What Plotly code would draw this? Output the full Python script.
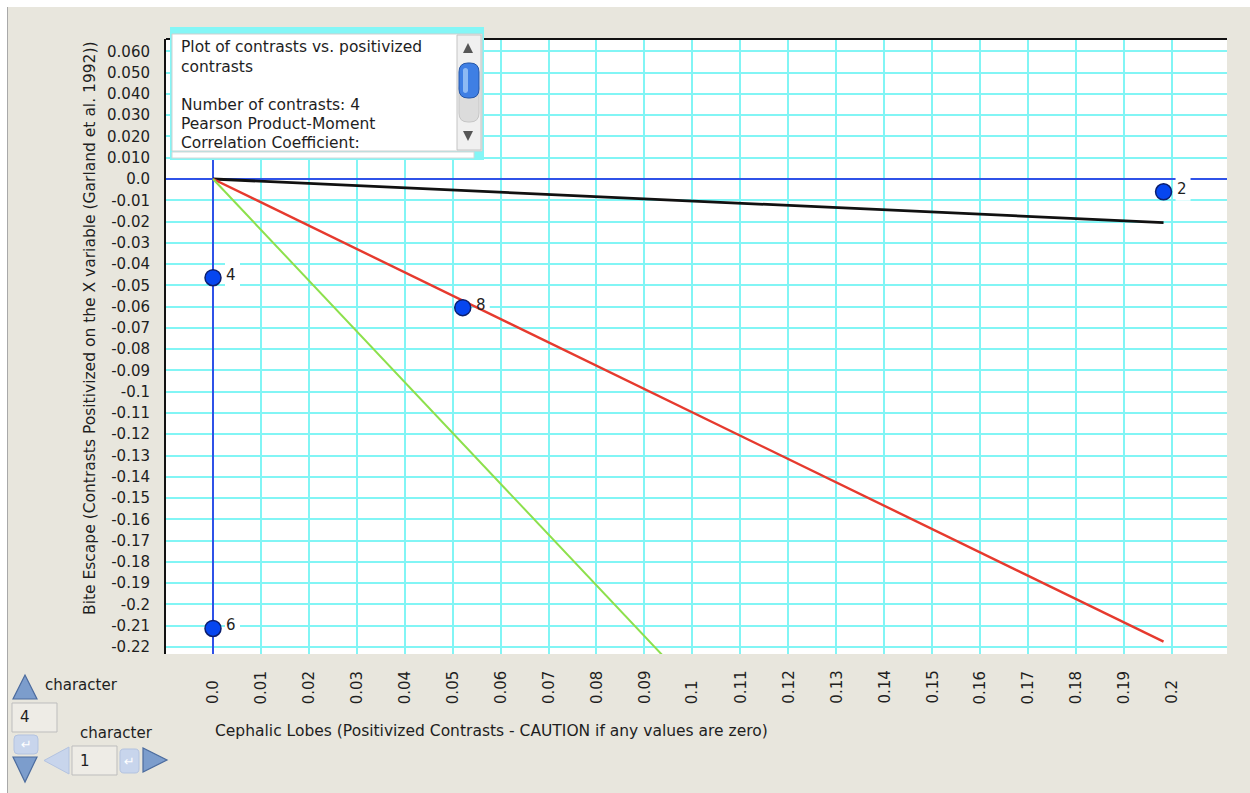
import plotly.graph_objects as go

# ---- data -----------------------------------------------------------------
point_labels = ["2", "4", "8", "6"]
point_x = [0.1983, 0.0, 0.0521, 0.0]
point_y = [-0.0060, -0.0464, -0.0605, -0.2113]

# regression lines through the origin (slope of each fit)
fit_slopes = [-0.1035, -1.097, -2.388]
fit_colors = ["#111111", "#e63a2e", "#8de04c"]
fit_widths = [2.8, 2.4, 2.0]

x_ticks = [0.0, 0.01, 0.02, 0.03, 0.04, 0.05, 0.06, 0.07, 0.08, 0.09, 0.1,
           0.11, 0.12, 0.13, 0.14, 0.15, 0.16, 0.17, 0.18, 0.19, 0.2]
x_tick_text = ["0.0", "0.01", "0.02", "0.03", "0.04", "0.05", "0.06", "0.07",
               "0.08", "0.09", "0.1", "0.11", "0.12", "0.13", "0.14", "0.15",
               "0.16", "0.17", "0.18", "0.19", "0.2"]
y_ticks = [0.06, 0.05, 0.04, 0.03, 0.02, 0.01, 0.0, -0.01, -0.02, -0.03, -0.04,
           -0.05, -0.06, -0.07, -0.08, -0.09, -0.1, -0.11, -0.12, -0.13, -0.14,
           -0.15, -0.16, -0.17, -0.18, -0.19, -0.2, -0.21, -0.22]
y_tick_text = ["0.060", "0.050", "0.040", "0.030", "0.020", "0.010", "0.0",
               "-0.01", "-0.02", "-0.03", "-0.04", "-0.05", "-0.06", "-0.07",
               "-0.08", "-0.09", "-0.1", "-0.11", "-0.12", "-0.13", "-0.14",
               "-0.15", "-0.16", "-0.17", "-0.18", "-0.19", "-0.2", "-0.21",
               "-0.22"]

info_lines = ["Plot of contrasts vs. positivized", "contrasts", "",
              "Number of contrasts: 4", "Pearson Product-Moment",
              "Correlation Coefficient:"]

x_title = "Cephalic Lobes (Positivized Contrasts - CAUTION if any values are zero)"
y_title = "Bite Escape (Contrasts Positivized on the X variable (Garland et al. 1992))"

# ---- page geometry (pixels) ------------------------------------------------
W, H = 1250, 793
L, R, T, B = 166, 1227, 39, 654
PW, PH = R - L, B - T
FONT = "DejaVu Sans"
TXT = "#1e1e1e"
BG = "#e8e6dd"


def px(x):
    return (x - L) / PW


def py(y):
    return (B - y) / PH


def poly(points):
    return "M " + " L ".join(f"{px(x):.5f},{py(y):.5f}" for x, y in points) + " Z"


def rrect(x0, y0, x1, y1, r):
    p = lambda x, y: f"{px(x):.5f},{py(y):.5f}"
    return (f"M {p(x0 + r, y0)} L {p(x1 - r, y0)} Q {p(x1, y0)} {p(x1, y0 + r)} "
            f"L {p(x1, y1 - r)} Q {p(x1, y1)} {p(x1 - r, y1)} L {p(x0 + r, y1)} "
            f"Q {p(x0, y1)} {p(x0, y1 - r)} L {p(x0, y0 + r)} Q {p(x0, y0)} {p(x0 + r, y0)} Z")


shapes = []


def rect(x0, y0, x1, y1, fill, line=None, lw=1):
    shapes.append(dict(type="rect", xref="paper", yref="paper",
                       x0=px(x0), x1=px(x1), y0=py(y1), y1=py(y0),
                       fillcolor=fill, line=dict(color=line or fill, width=lw if line else 0),
                       layer="above"))


def path(d, fill, line=None, lw=1):
    shapes.append(dict(type="path", xref="paper", yref="paper", path=d,
                       fillcolor=fill, line=dict(color=line or fill, width=lw if line else 0),
                       layer="above"))


fig = go.Figure()

# fitted lines, clipped by the plot frame
x_end = max(point_x)
for slope, color, width in zip(fit_slopes, fit_colors, fit_widths):
    fig.add_trace(go.Scatter(x=[0, x_end], y=[0, slope * x_end], mode="lines",
                             line=dict(color=color, width=width),
                             hoverinfo="skip", showlegend=False))

fig.add_trace(go.Scatter(x=point_x, y=point_y, mode="markers",
                         marker=dict(size=16, color="#0646f0",
                                     line=dict(color="#0c1f6e", width=1.5)),
                         hoverinfo="skip", showlegend=False))

annotations = []
for lab, xv, yv in zip(point_labels, point_x, point_y):
    # white label patch sits above the grid but beneath the fitted lines
    shapes.append(dict(type="rect", xref="x", yref="y", layer="between",
                       xsizemode="pixel", ysizemode="pixel", xanchor=xv, yanchor=yv,
                       x0=12, x1=27, y0=-9, y1=15,
                       fillcolor="white", line=dict(width=0)))
    annotations.append(dict(x=xv, y=yv, xref="x", yref="y", text=lab,
                            showarrow=False, xanchor="left", yanchor="middle",
                            xshift=12, yshift=3, borderpad=0,
                            font=dict(family=FONT, size=15, color=TXT)))

# rotated x tick labels, aligned at their starting end
for xv, lab in zip(x_ticks, x_tick_text):
    annotations.append(dict(x=xv, y=py(705), xref="x", yref="paper", text=lab,
                            showarrow=False, textangle=-90, xanchor="center",
                            yanchor="bottom", borderpad=0,
                            font=dict(family=FONT, size=15, color=TXT)))

annotations.append(dict(x=px(213), y=py(731), xref="paper", yref="paper",
                        text=x_title, showarrow=False, xanchor="left",
                        yanchor="middle", font=dict(family=FONT, size=15.5, color=TXT)))
annotations.append(dict(x=px(90), y=py(328), xref="paper", yref="paper",
                        text=y_title, showarrow=False, textangle=-90,
                        xanchor="center", yanchor="middle",
                        font=dict(family=FONT, size=15.5, color=TXT)))

# window edges
rect(0, 0, W, 7, "white")
rect(0, 0, 7, H, "white")
shapes.append(dict(type="line", xref="paper", yref="paper", x0=px(7.5), x1=px(7.5),
                   y0=py(7), y1=py(H), line=dict(color="#a9a9a9", width=1), layer="above"))

# top frame line
shapes.append(dict(type="line", xref="paper", yref="paper", x0=0, x1=1, y0=1, y1=1,
                   line=dict(color="#111111", width=2), layer="above"))

# info text box with scroll bar
rect(170, 27, 484, 160, "#84f6f6")
rect(172, 34, 482, 151, "white", "#cfcfcf", 1)
rect(172, 152, 474, 158, "white", "#d6d6d6", 1)
rect(457, 35, 481, 150, "#f0f0f0", "#c4c4c4", 1)
path(rrect(459, 80, 479, 122, 9), "#dcdcdc", "#c6c6c6", 1)
path(rrect(459, 63, 479, 98, 9), "#3f7fe4", "#2456a8", 1)
path(rrect(463, 68, 468, 93, 2.5), "rgba(170,205,250,0.75)")
path(poly([(463, 53), (473, 53), (468, 43)]), "#565656")
path(poly([(463, 131), (473, 131), (468, 141)]), "#565656")

info_y = [47, 67, 86, 105, 124, 143]
for line_text, yy in zip(info_lines, info_y):
    if line_text:
        annotations.append(dict(x=px(179), y=py(yy), xref="paper", yref="paper",
                                text=line_text, showarrow=False, xanchor="left",
                                yanchor="middle",
                                font=dict(family=FONT, size=15.5, color=TXT)))

# character selector widgets
TRI = "#7c9dcc"
TRI_EDGE = "#4c6c9e"
FADED = "#c8d5ec"
FADED_EDGE = "#b3c3e0"
path(poly([(13, 699), (37, 699), (25, 675)]), TRI, TRI_EDGE, 1.2)
path(poly([(13, 757), (37, 757), (25, 782)]), TRI, TRI_EDGE, 1.2)
path(poly([(69, 747), (69, 774), (44, 760.5)]), FADED, FADED_EDGE, 1)
path(poly([(143, 748), (143, 772), (167, 760)]), TRI, TRI_EDGE, 1.2)
rect(12, 703, 57, 732, "#eeece6", "#bdbdbd", 1)
rect(72, 746, 117, 775, "#eeece6", "#bdbdbd", 1)
path(rrect(14, 735, 38, 754, 4), FADED, FADED_EDGE, 1)
path(rrect(120, 749, 139, 773, 4), FADED, FADED_EDGE, 1)
for cx, cy in [(26, 744.5), (129.5, 761)]:
    annotations.append(dict(x=px(cx), y=py(cy), xref="paper", yref="paper",
                            text="\u21b5", showarrow=False, xanchor="center",
                            yanchor="middle",
                            font=dict(family=FONT, size=13, color="white")))

for text, x0, yy in [("character", 43, 685), ("character", 78, 733),
                     ("4", 18, 717), ("1", 78, 761)]:
    annotations.append(dict(x=px(x0), y=py(yy), xref="paper", yref="paper",
                            text=text, showarrow=False, xanchor="left",
                            yanchor="middle",
                            font=dict(family=FONT, size=15, color=TXT)))

x_range = [-(213 - L) / 4793.5, (R - 213) / 4793.5]
y_range = [-(B - 179) / 2127.0, (179 - T) / 2127.0]

fig.update_layout(
    width=W, height=H,
    margin=dict(l=L, r=W - R, t=T, b=H - B, pad=0),
    paper_bgcolor=BG, plot_bgcolor="white",
    showlegend=False,
    font=dict(family=FONT, color=TXT),
    xaxis=dict(range=x_range, tickvals=x_ticks, showticklabels=False,
               showgrid=True, gridcolor="#82f5f5", gridwidth=2,
               zeroline=True, zerolinecolor="#2f52e8", zerolinewidth=1.6,
               showline=False, ticks="", fixedrange=True),
    yaxis=dict(range=y_range, tickvals=y_ticks, ticktext=y_tick_text,
               showgrid=True, gridcolor="#82f5f5", gridwidth=2,
               zeroline=True, zerolinecolor="#2f52e8", zerolinewidth=1.6,
               showline=True, linecolor="#111111", linewidth=2,
               ticks="", ticklabelstandoff=11,
               tickfont=dict(family=FONT, size=15, color=TXT), fixedrange=True),
    shapes=shapes,
    annotations=annotations,
)

fig.write_html("out.html")
